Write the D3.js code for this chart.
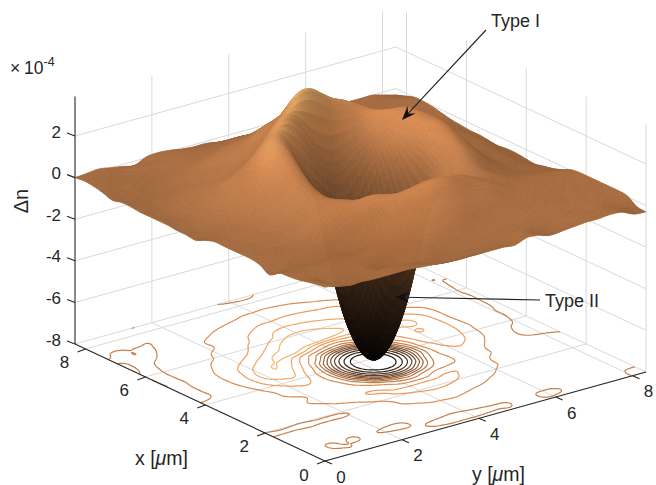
<!DOCTYPE html>
<html><head><meta charset="utf-8"><style>html,body{margin:0;padding:0;background:#fff}svg{display:block}text{font-family:"Liberation Sans",Arial,sans-serif;fill:#262626}</style>
<script src="https://cdn.jsdelivr.net/npm/d3@7"></script></head><body><svg id="c" width="656" height="485"></svg>
<script>
const xTicks=[0,2,4,6,8], yTicks=[0,2,4,6,8], zTicks=[-8,-6,-4,-2,0,2];
const contourLevels=[-6.6,-5.8,-5,-4.2,-3.4,-2.6,-1.8,-1,-0.2,0.6,1.4,2.2,3];
const annotations=["Type I","Type II"];
// Delta n (x 1e-4): rows go along x, columns along y
const dnGrid=[
[.35,.3,.2,.15,.1,.1,.1,.1,.05,0,-.05,-.1,-.1,-.1,-.1,-.1,-.15,.05,0,-.15,-.1,-.05,0,0,.05,0,-.25,-.3],
[.3,.15,-.1,-.2,0,.05,.1,.05,0,-.15,-.3,-.35,-.35,-.35,-.3,-.25,-.25,-.05,-.05,-.3,-.3,-.1,0,.05,.05,0,-.2,-.25],
[.2,.1,-.3,-.15,-.3,-.05,-.2,-.3,-.35,-.1,-.05,-.1,-.15,-.1,-.05,-.05,0,0,0,0,0,.05,.05,.05,.1,.05,0,.05],
[.1,.05,0,0,0,.05,0,-.05,-.05,0,.05,.1,.15,.15,.15,.1,.1,.1,.1,.1,.1,.1,.1,.1,.1,.1,.1,.1],
[.05,.05,0,0,.05,.05,.05,.1,.1,.15,.2,.3,.5,.55,.6,.5,.35,.25,.2,.2,.15,.15,.15,.1,.1,.1,.1,.1],
[0,-.05,-.05,-.05,-.05,-.05,-.05,0,.1,.25,.45,.65,.8,.95,1,.95,.8,.65,.5,.35,.25,.2,.15,.1,.1,.1,.1,.1],
[-.3,-.25,-.25,-.3,-.25,-.25,-.25,-.15,.05,.3,.55,.9,1.1,1.3,1.4,1.35,1.15,.9,.75,.6,.35,.25,.2,.15,.15,.1,.1,.1],
[-.05,0,-.05,-.05,0,0,.05,.15,.4,.7,.95,1.35,1.55,1.7,1.8,1.8,1.65,1.3,1,.8,.6,.35,.25,.2,.15,.15,.1,.1],
[.05,.05,.05,0,.05,.15,.3,.65,.9,1.15,1.45,1.4,1.05,.7,.65,.75,1.25,1.35,1.2,.9,.65,.4,.25,.15,.15,.1,.1,.05],
[.05,.05,.05,.1,.2,.4,.7,.95,1.15,1.2,1.05,.7,-.05,-1,-1.3,-.55,.15,.5,.65,.75,.75,.6,.35,.15,.05,0,-.05,-.15],
[.05,.05,.05,.1,.15,.3,.55,.85,1.1,1.05,.6,-.5,-2.86,-4.24,-4.54,-3.7,-1.75,-.1,.45,.85,1,.7,.3,.05,-.1,-.2,-.25,-.3],
[.05,.05,.1,.15,.3,.55,.9,1.15,1.2,.85,.1,-2.5,-5,-6.4,-6.7,-5.85,-3.9,-.9,.45,.9,1.3,1.05,.6,.2,-.1,-.25,-.3,-.4],
[.05,.05,.1,.15,.35,.6,1.05,1.4,1.45,.85,-.35,-3.58,-6.07,-7.46,-7.76,-6.9,-4.96,-1.92,.35,1.2,1.65,1.45,.95,.4,0,-.2,-.3,-.5],
[-.1,-.05,.1,.2,.4,.85,1.5,1.9,1.95,1,-.3,-3.5,-6,-7.4,-7.7,-6.85,-4.9,-1.85,.6,1.5,1.95,1.75,1.15,.5,.05,-.05,-.25,-.45],
[-.3,-.25,-.05,.2,.55,1.1,2,2.4,2.45,1.5,.3,-2.36,-4.85,-6.24,-6.54,-5.68,-3.75,-.7,.9,1.85,2.15,2,1.3,.6,.15,0,-.2,-.4],
[-.25,-.25,-.05,.25,.65,1.2,2.15,2.8,2.9,2.1,.95,-.35,-2.6,-3.97,-4.26,-3.4,-1.5,.45,1.4,2.1,2.2,2.05,1.35,.55,.15,.05,-.2,-.4],
[-.25,-.25,-.05,.3,.65,1.05,1.9,2.6,3,2.8,1.8,.85,.1,-.6,-.95,-.3,.5,1.2,1.75,2.1,2.2,2.05,1.3,.5,.15,0,-.1,-.45],
[-.2,-.25,-.1,.3,.6,1,1.45,1.95,2.55,3.1,3.35,3,2.1,1.45,1.2,1.4,1.65,2,2.3,2.35,2.3,1.9,1.2,.5,.15,0,-.1,-.4],
[-.2,-.25,-.1,.2,.45,.75,1,1.35,1.75,2.35,2.9,3.5,4,3.95,3.5,3.1,2.85,2.55,2.3,2.05,1.8,1.35,.9,.45,.15,0,-.1,-.35],
[-.2,-.25,-.1,.15,.35,.55,.7,.95,1.25,1.75,2.25,2.9,3.4,3.45,3.3,3.05,2.85,2.55,2.2,1.8,1.3,.8,.5,.3,.1,0,-.15,-.35],
[-.2,-.25,-.15,.05,.25,.4,.6,.75,.95,1.35,1.7,2.1,2.65,2.85,2.8,2.6,2.4,2.15,1.9,1.5,1.05,.65,.35,.2,.05,-.05,-.15,-.3],
[-.15,-.25,-.2,-.1,.05,.25,.45,.6,.8,1.05,1.45,1.85,2.1,2.25,2.2,2.1,1.95,1.8,1.6,1.3,.9,.55,.25,.1,0,-.1,-.15,-.25],
[-.15,-.25,-.25,-.2,-.05,.15,.35,.6,.75,.9,1.05,1.35,1.6,1.6,1.7,1.7,1.6,1.5,1.4,1.1,.8,.45,.2,.05,-.05,-.1,-.2,-.15],
[-.25,-.25,-.2,-.25,-.15,.05,.2,.4,.55,.7,.85,.95,1.05,1.15,1.2,1.15,1.05,.9,.75,.5,.3,.2,.1,0,-.05,-.1,-.1,-.05],
[-.1,-.25,-.2,-.2,-.2,-.1,.05,.2,.3,.4,.5,.6,.7,.75,.8,.75,.65,.5,.35,.25,.15,.1,.05,0,0,-.05,0,0],
[0,-.05,-.15,-.15,-.15,-.15,0,.1,.15,.2,.25,.3,.4,.4,.4,.35,.3,.25,.2,.15,.1,.05,.05,0,0,0,.05,0],
[.05,0,-.05,-.15,-.05,0,.05,.1,.1,.1,.1,.1,.1,.1,.05,.05,.1,.1,.05,.05,0,0,0,0,-.05,0,-.05,-.15],
[0,.05,.1,0,-.1,-.2,.05,.1,.05,-.05,-.1,-.1,-.2,-.3,-.35,-.2,-.05,0,-.1,-.1,-.1,-.05,0,0,0,0,-.15,-.3]
];
const xMax=8.35,yMax=8.35,zMin=-8,zTop=3.9;
// oblique projection built from linear scales
const pxX=d3.scaleLinear().domain([0,xMax]).range([0,-250]);
const pxY=d3.scaleLinear().domain([0,yMax]).range([0,321]);
const pyX=d3.scaleLinear().domain([0,xMax]).range([0,-117]);
const pyY=d3.scaleLinear().domain([0,yMax]).range([0,-89]);
const pyZ=d3.scaleLinear().domain([zMin,zTop]).range([0,-247.5]);
const project=(x,y,z)=>[325+pxX(x)+pxY(y),461+pyX(x)+pyY(y)+pyZ(z)];
const tColor=d3.scaleLinear().domain([-8,5]).range([0,1]).clamp(true);
const tLine=d3.scaleLinear().domain([-8,4]).range([0,1]).clamp(true);
function copperT(t,f){return d3.rgb(255*Math.min(1,1.25*t)*f,255*.81*t*f,255*.485*t*f).formatHex();}
const copper=(z,f)=>copperT(Math.round(tColor(z)*96)/96,f);
function cr(a,b,c,d,t){return .5*((2*b)+(c-a)*t+(2*a-5*b+4*c-d)*t*t+(3*b-a-3*c+d)*t*t*t);}
function up1(v,m){const o=[],n=v.length;for(let k=0;k<n-1;k++)for(let s=0;s<m;s++)
  o.push(cr(v[Math.max(k-1,0)],v[k],v[k+1],v[Math.min(k+2,n-1)],s/m));o.push(v[n-1]);return o;}
function upsample(g,m){const r=g.map(v=>up1(v,m));const w=r[0].length;const cols=d3.range(w).map(c=>up1(r.map(v=>v[c]),m));
  return d3.range(cols[0].length).map(i=>cols.map(c=>c[i]));}
const svg=d3.select("#c");
const grid=svg.append("g").attr("fill","none").attr("stroke","#d9d9d9").attr("stroke-width",1);
const seg=(g,a,b)=>g.append("line").attr("x1",a[0]).attr("y1",a[1]).attr("x2",b[0]).attr("y2",b[1]);
zTicks.forEach(z=>{seg(grid,project(xMax,0,z),project(xMax,yMax,z));seg(grid,project(xMax,yMax,z),project(0,yMax,z));});
yTicks.filter(y=>y>0).forEach(y=>{seg(grid,project(xMax,y,zMin),project(xMax,y,zTop));seg(grid,project(0,y,zMin),project(xMax,y,zMin));});
xTicks.forEach(x=>{seg(grid,project(x,yMax,zMin),project(x,yMax,zTop));seg(grid,project(x,0,zMin),project(x,yMax,zMin));});
// floor contours
const U=6,cg=upsample(dnGrid,U),ch=cg.length,cw=cg[0].length;
const flat=new Float64Array(cw*ch);cg.forEach((r,i)=>r.forEach((v,j)=>flat[i*cw+j]=v));
const cs=d3.contours().size([cw,ch]).thresholds(contourLevels)(flat);
const line=d3.line().defined(p=>p.ok).x(p=>p.s[0]).y(p=>p.s[1]);
const cG=svg.append("g").attr("fill","none").attr("stroke-width",1.2).attr("stroke-linejoin","round");
cs.forEach(c=>{let d="";c.coordinates.forEach(poly=>poly.forEach(ring=>{
  const pts=ring.map(([a,b])=>{const ok=a>=.5&&a<=cw-.5&&b>=.5&&b<=ch-.5;
    return{ok,s:project((b-.5)/(ch-1)*xMax,(a-.5)/(cw-1)*yMax,zMin)};});
  d+=line(pts)||"";}));
  cG.append("path").attr("d",d).attr("stroke",copperT(tLine(c.value),.95));});
// surface: painter's order, far corner first
const M=4,sg=upsample(dnGrid,M),n=sg.length;
const step=xMax/(n-1);
const L=[-.15,-.45,.88];
const sG=svg.append("g").attr("stroke-width",.7).attr("stroke-linejoin","round");
const zAt=(i,j)=>sg[Math.max(0,Math.min(n-1,i))][Math.max(0,Math.min(n-1,j))];
const W=3;
for(let i=n-2;i>=0;i--)for(let j=n-2;j>=0;j--){
  const corners=[[i,j],[i+1,j],[i+1,j+1],[i,j+1]];
  const zm=d3.mean(corners,c=>sg[c[0]][c[1]]);
  const zx=(zAt(i+1+W,j)-zAt(i-W,j)+zAt(i+1+W,j+1)-zAt(i-W,j+1))/(2*(2*W+1)*step);
  const zy=(zAt(i,j+1+W)-zAt(i,j-W)+zAt(i+1,j+1+W)-zAt(i+1,j-W))/(2*(2*W+1)*step);
  const k=2.4,nl=Math.hypot(zx,zy,k);
  const dot=(-zx*L[0]-zy*L[1]+k*L[2])/nl;
  const f=.47+.42*Math.max(0,dot);
  const col=copper(zm,Math.min(1,f));
  const p=corners.map(c=>project(c[0]*step,c[1]*step,sg[c[0]][c[1]]));
  sG.append("path").attr("d","M"+p.join("L")+"Z").attr("fill",col).attr("stroke",col);
}
// axes
const ax=svg.append("g").attr("stroke","#262626").attr("stroke-width",1.1).attr("fill","none");
seg(ax,project(xMax,0,zMin),project(xMax,0,zTop));
seg(ax,project(xMax,0,zMin),project(0,0,zMin));
seg(ax,project(0,0,zMin),project(0,yMax,zMin));
const fs=17;
const tick=(p,dx,dy,lx,ly,t,anchor)=>{ax.append("line").attr("x1",p[0]).attr("y1",p[1]).attr("x2",p[0]+dx).attr("y2",p[1]+dy);
  svg.append("text").attr("x",p[0]+lx).attr("y",p[1]+ly).attr("text-anchor",anchor||"middle").attr("dominant-baseline","central").attr("font-size",fs).text(t);};
zTicks.forEach(z=>tick(project(xMax,0,z),-8,-3,-14,-4,z,"end"));
xTicks.forEach(x=>tick(project(x,0,zMin),-8,3,-21,14,x));
yTicks.forEach(y=>tick(project(0,y,zMin),7,3,16,16,y));
// labels
svg.append("text").attr("transform","translate(28,201) rotate(-90)").attr("text-anchor","middle").attr("font-size",20).text("Δn");
const ex=svg.append("text").attr("y",74).attr("font-size",17.5);
ex.append("tspan").attr("x",10).text("×");ex.append("tspan").attr("x",24).text("10");ex.append("tspan").attr("dy",-8).attr("font-size",12.5).text("-4");
const unit=(t,x,y)=>{const e=svg.append("text").attr("x",x).attr("y",y).attr("font-size",19.5);
  e.append("tspan").text(t+" [");e.append("tspan").attr("font-style","italic").text("μ");e.append("tspan").text("m]");};
unit("x",135,465);unit("y",472,481);
svg.append("text").attr("x",491).attr("y",27).attr("font-size",18).text(annotations[0]);
svg.append("text").attr("x",545).attr("y",307).attr("font-size",18).text(annotations[1]);
function arrow(a,b){const an=Math.atan2(b[1]-a[1],b[0]-a[0]),c=Math.cos(an),s=Math.sin(an);
  const P=(u,v)=>[b[0]+u*c-v*s,b[1]+u*s+v*c];
  svg.append("line").attr("x1",a[0]).attr("y1",a[1]).attr("x2",P(-9,0)[0]).attr("y2",P(-9,0)[1]).attr("stroke","#222").attr("stroke-width",1.1);
  svg.append("path").attr("d","M"+[b,P(-14,5.5),P(-9,0),P(-14,-5.5)].join("L")+"Z").attr("fill","#111");}
arrow([486,30],[402,120]);arrow([540,300],[395,297]);
</script></body></html>
